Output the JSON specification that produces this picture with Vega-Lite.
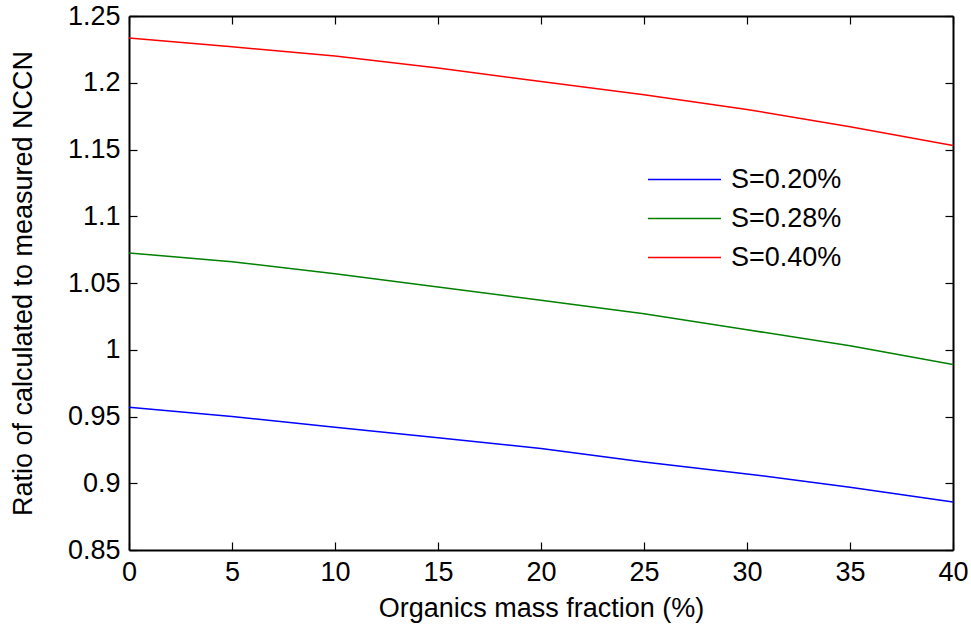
{
  "$schema": "https://vega.github.io/schema/vega-lite/v6.json",
  "width": 824,
  "height": 534,
  "autosize": {"type": "none"},
  "padding": {"left": 129, "top": 16, "right": 18, "bottom": 77},
  "background": "white",
  "config": {
    "font": "Liberation Sans",
    "view": {"stroke": null},
    "axis": {"labelFont": "Liberation Sans", "titleFont": "Liberation Sans", "labelFontSize": 27, "titleFontSize": 27, "labelColor": "black", "titleColor": "black", "titleFontWeight": "normal", "domainColor": "black", "domainWidth": 2, "tickColor": "black", "tickWidth": 1.2, "grid": false}
  },
  "data": {"values": [
    {"f": 0, "r": 0.957, "s": "S=0.20%"},
    {"f": 5, "r": 0.950, "s": "S=0.20%"},
    {"f": 10, "r": 0.942, "s": "S=0.20%"},
    {"f": 15, "r": 0.934, "s": "S=0.20%"},
    {"f": 20, "r": 0.926, "s": "S=0.20%"},
    {"f": 25, "r": 0.916, "s": "S=0.20%"},
    {"f": 30, "r": 0.907, "s": "S=0.20%"},
    {"f": 35, "r": 0.897, "s": "S=0.20%"},
    {"f": 40, "r": 0.886, "s": "S=0.20%"},
    {"f": 0, "r": 1.0725, "s": "S=0.28%"},
    {"f": 5, "r": 1.066, "s": "S=0.28%"},
    {"f": 10, "r": 1.057, "s": "S=0.28%"},
    {"f": 15, "r": 1.047, "s": "S=0.28%"},
    {"f": 20, "r": 1.037, "s": "S=0.28%"},
    {"f": 25, "r": 1.027, "s": "S=0.28%"},
    {"f": 30, "r": 1.015, "s": "S=0.28%"},
    {"f": 35, "r": 1.003, "s": "S=0.28%"},
    {"f": 40, "r": 0.989, "s": "S=0.28%"},
    {"f": 0, "r": 1.2335, "s": "S=0.40%"},
    {"f": 5, "r": 1.227, "s": "S=0.40%"},
    {"f": 10, "r": 1.220, "s": "S=0.40%"},
    {"f": 15, "r": 1.211, "s": "S=0.40%"},
    {"f": 20, "r": 1.201, "s": "S=0.40%"},
    {"f": 25, "r": 1.191, "s": "S=0.40%"},
    {"f": 30, "r": 1.180, "s": "S=0.40%"},
    {"f": 35, "r": 1.167, "s": "S=0.40%"},
    {"f": 40, "r": 1.153, "s": "S=0.40%"}
  ]},
  "layer": [
    {
      "mark": {"type": "line", "strokeWidth": 1.5},
      "encoding": {
        "x": {"field": "f", "type": "quantitative", "scale": {"domain": [0, 40], "nice": false, "zero": false},
              "axis": {"orient": "bottom", "title": "Organics mass fraction (%)", "values": [0,5,10,15,20,25,30,35,40], "format": "~g", "tickSize": -8, "labelPadding": 17, "titlePadding": 10, "labelFlush": false}},
        "y": {"field": "r", "type": "quantitative", "scale": {"domain": [0.85, 1.25], "nice": false, "zero": false},
              "axis": {"orient": "left", "title": "Ratio of calculated to measured NCCN", "values": [0.85,0.9,0.95,1,1.05,1.1,1.15,1.2,1.25], "format": "~g", "tickSize": -8, "labelPadding": 17, "titlePadding": 30, "labelFlush": false}},
        "color": {"field": "s", "type": "nominal",
                  "scale": {"domain": ["S=0.20%", "S=0.28%", "S=0.40%"], "range": ["#0000FF", "#008000", "#FF0000"]},
                  "legend": {"title": null, "orient": "none", "legendX": 542, "legendY": 150, "symbolType": "M-4,0H4", "symbolSize": 333, "symbolStrokeWidth": 1.5, "symbolFillColor": "transparent", "labelFontSize": 27, "labelFont": "Liberation Sans", "labelColor": "black", "rowPadding": 11, "padding": 0, "labelOffset": 33}}
      }
    },
    {
      "mark": {"type": "line", "opacity": 0},
      "encoding": {
        "x": {"field": "f", "type": "quantitative", "axis": {"orient": "top", "title": null, "labels": false, "values": [0,5,10,15,20,25,30,35,40], "tickSize": -8}},
        "y": {"field": "r", "type": "quantitative", "axis": {"orient": "right", "title": null, "labels": false, "values": [0.85,0.9,0.95,1,1.05,1.1,1.15,1.2,1.25], "tickSize": -8}},
        "detail": {"field": "s"}
      }
    }
  ],
  "resolve": {"axis": {"x": "independent", "y": "independent"}}
}
